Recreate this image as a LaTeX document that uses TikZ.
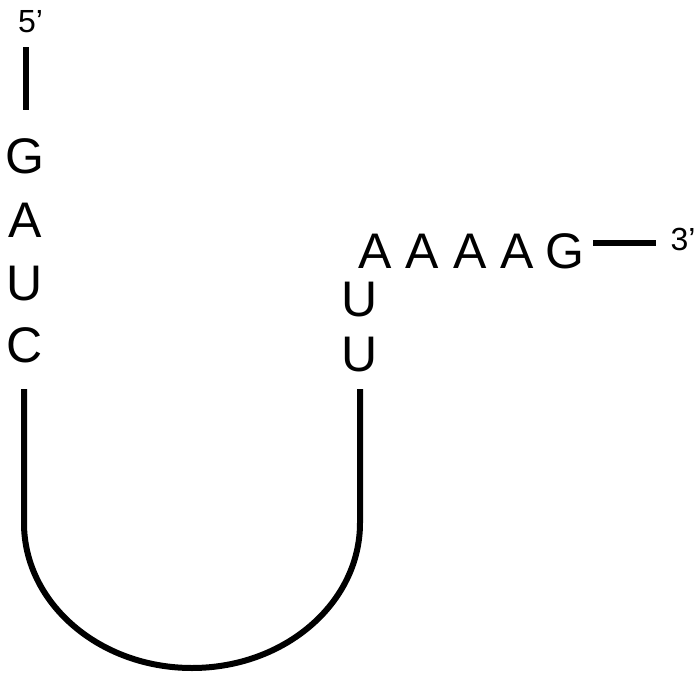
\documentclass[tikz,border=0pt]{standalone}
\usepackage{fontspec}
\setmainfont{Liberation Sans}
\begin{document}
\begin{tikzpicture}[x=1pt,y=1pt,
  base/.style={inner sep=0pt, anchor=base, font=\fontsize{50}{50}\selectfont},
  endlabel/.style={inner sep=0pt, anchor=base, font=\fontsize{32}{32}\selectfont},
  strand/.style={line width=6pt, line cap=butt}]
\useasboundingbox (0,0) rectangle (697,-678);
% left column
\node[endlabel] (five) at (30.5,-32) {5’};
\node[base] (g1) at (25,-173) {G};
\node[base] (a1) at (25,-237) {A};
\node[base] (u1) at (25,-300) {U};
\node[base] (c1) at (25,-362) {C};
% right side
\node[base] (u3) at (360,-371) {U};
\node[base] (u2) at (360,-316) {U};
\node[base] (a2) at (375,-268) {A};
\node[base] (a3) at (422,-268) {A};
\node[base] (a4) at (470,-268) {A};
\node[base] (a5) at (517,-268) {A};
\node[base] (g2) at (565,-268) {G};
\node[endlabel] (three) at (683,-250) {3’};
% connectors
\coordinate (t5) at (25.5,-47);
\coordinate (b5) at (25.5,-110);
\draw[strand] (t5) -- (b5);
\coordinate (l3) at (593,-242.5);
\coordinate (r3) at (656,-242.5);
\draw[strand] (l3) -- (r3);
\coordinate (lt) at (24,-389);
\coordinate (lb) at (24,-523);
\coordinate (rb) at (360,-523);
\coordinate (rt) at (360,-389);
\draw[strand] (lt) -- (lb) arc[start angle=180, end angle=360, x radius=168, y radius=145] -- (rt);
\end{tikzpicture}
\end{document}
